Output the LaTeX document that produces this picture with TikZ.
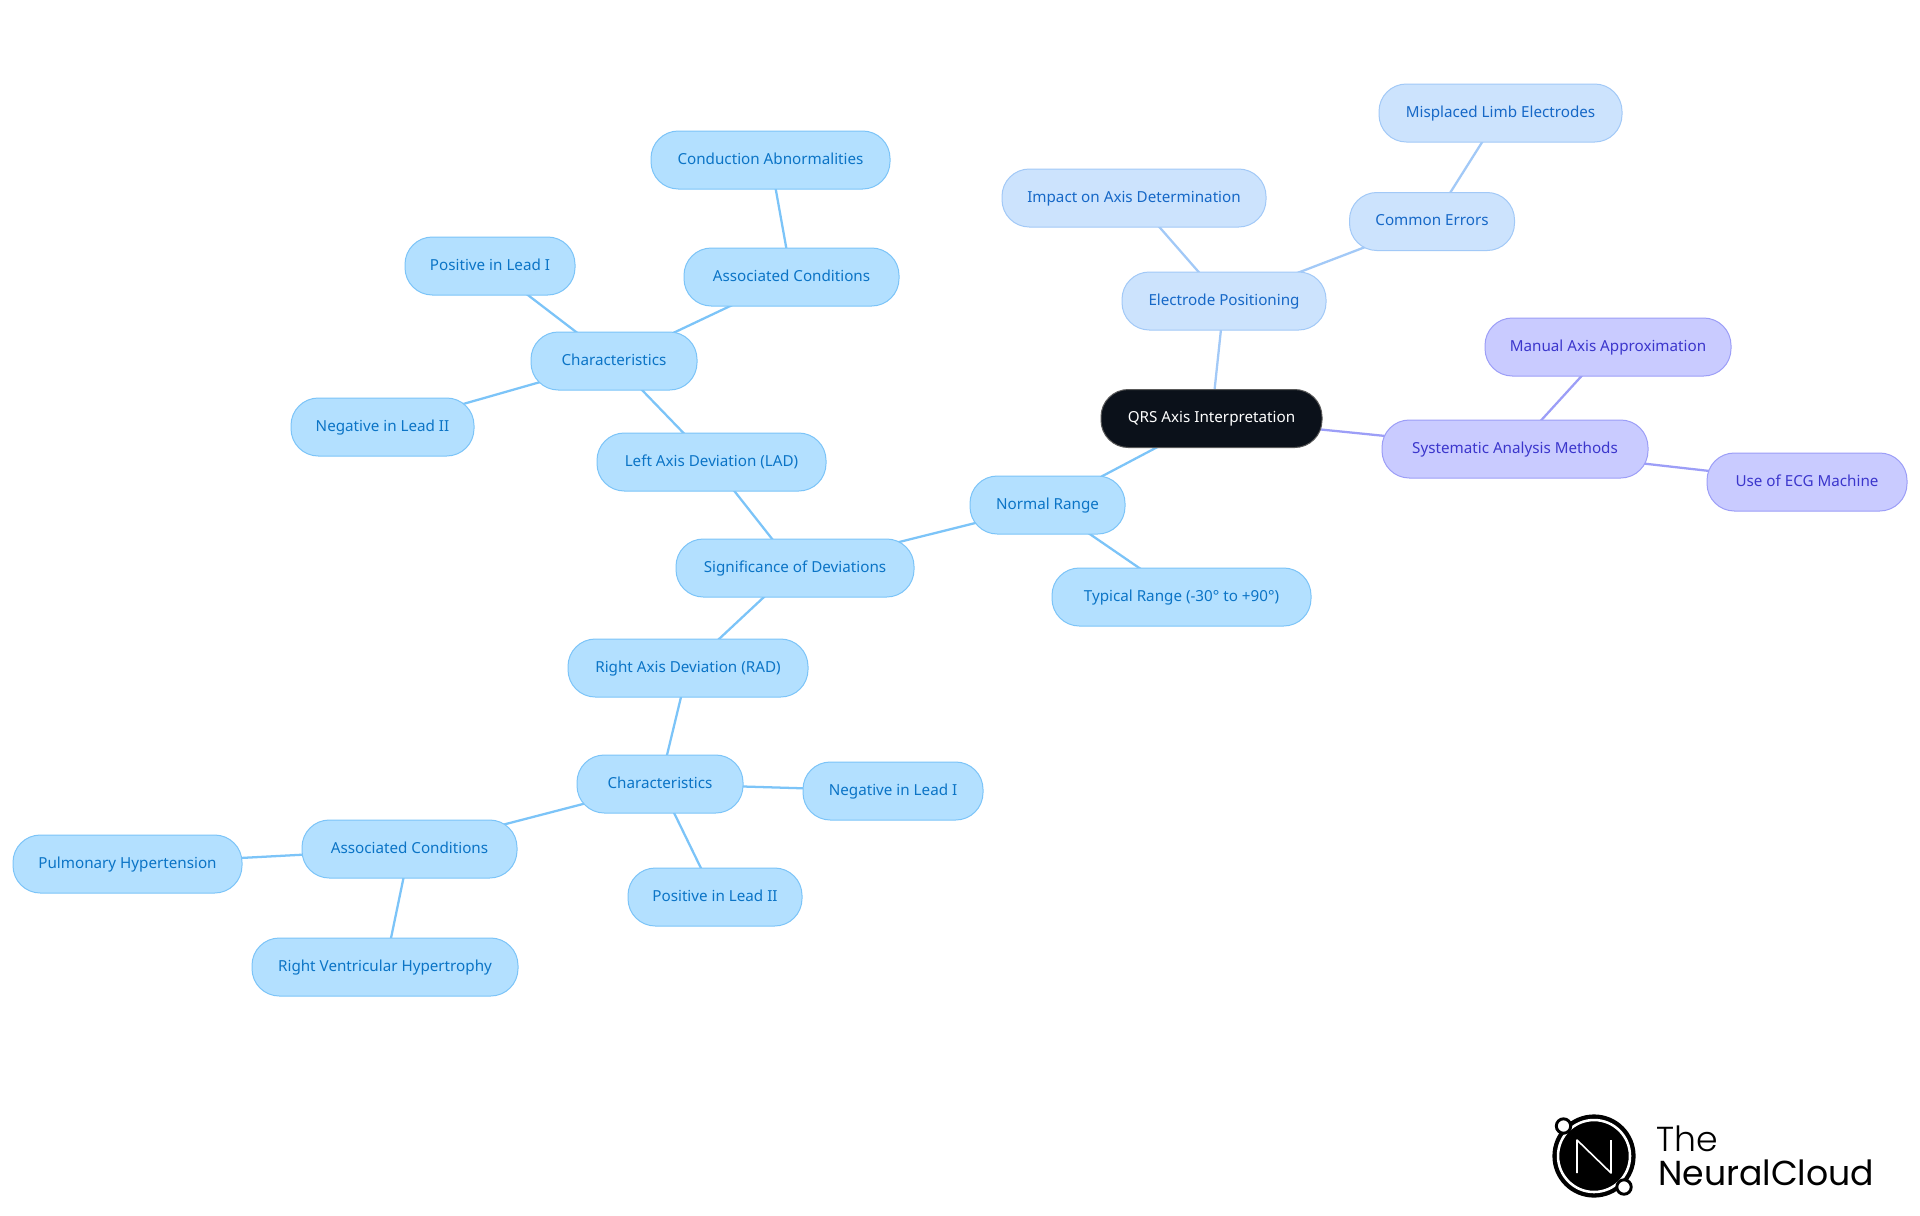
\documentclass[tikz,border=0pt]{standalone}
\usepackage{fontspec}
\usetikzlibrary{backgrounds}
\setmainfont{Noto Sans}
\newfontfamily\logolight{Poppins Light}
\newfontfamily\logoreg{Poppins}
\definecolor{bfill}{HTML}{B3E0FF}
\definecolor{bline}{HTML}{7CC4F8}
\definecolor{btext}{HTML}{0B74C6}
\definecolor{lfill}{HTML}{CCE3FD}
\definecolor{lline}{HTML}{A2C9F7}
\definecolor{ltext}{HTML}{1668C7}
\definecolor{pfill}{HTML}{C9CBFF}
\definecolor{pline}{HTML}{9C9EF7}
\definecolor{ptext}{HTML}{3B36CC}
\definecolor{dfill}{HTML}{0B111A}
\tikzset{
  base/.style={rounded corners=20.5pt,minimum height=43.5pt,inner sep=0pt,line width=0.75pt,text height=8.9pt,text depth=2.6pt,font=\fontsize{11.4pt}{14pt}\selectfont},
  w/.style={minimum width=#1*0.75pt},
  bnode/.style={base,draw=bline,fill=bfill,text=btext},
  lnode/.style={base,draw=lline,fill=lfill,text=ltext},
  pnode/.style={base,draw=pline,fill=pfill,text=ptext},
  dnode/.style={base,draw=gray!70!black,fill=dfill,text=white},
  bedge/.style={bline,line width=1.7pt},
  ledge/.style={lline,line width=1.7pt},
  pedge/.style={pline,line width=1.7pt}
}
\begin{document}
\begin{tikzpicture}[x=0.75pt,y=-0.75pt]
\useasboundingbox (0,0) rectangle (1920,1215);
\node[dnode,w=221] (qrs) at (1211.5,418.5) {QRS Axis Interpretation};
\node[lnode,w=243] (misp) at (1500.5,113) {Misplaced Limb Electrodes};
\node[lnode,w=165] (comm) at (1432,221.5) {Common Errors};
\node[lnode,w=264] (impa) at (1134,198) {Impact on Axis Determination};
\node[lnode,w=204] (elec) at (1224,301) {Electrode Positioning};
\node[pnode,w=246] (manu) at (1608,347) {Manual Axis Approximation};
\node[pnode,w=266] (syst) at (1515,449) {Systematic Analysis Methods};
\node[pnode,w=200] (ecgm) at (1807,482) {Use of ECG Machine};
\node[bnode,w=155] (norm) at (1047.5,505) {Normal Range};
\node[bnode,w=259] (typi) at (1181.5,597) {Typical Range (-30° to +90°)};
\node[bnode,w=238] (sign) at (795,568) {Significance of Deviations};
\node[bnode,w=229] (lad) at (711.5,462) {Left Axis Deviation (LAD)};
\node[bnode,w=166] (charu) at (614,361) {Characteristics};
\node[bnode,w=183] (negii) at (382.5,427) {Negative in Lead II};
\node[bnode,w=170] (posi) at (490,266) {Positive in Lead I};
\node[bnode,w=215] (assu) at (791.5,277) {Associated Conditions};
\node[bnode,w=239] (cond) at (770.5,160) {Conduction Abnormalities};
\node[bnode,w=240] (rad) at (688,668) {Right Axis Deviation (RAD)};
\node[bnode,w=166] (charl) at (660,784) {Characteristics};
\node[bnode,w=180] (negi) at (893,791) {Negative in Lead I};
\node[bnode,w=174] (posii) at (715,897) {Positive in Lead II};
\node[bnode,w=215] (assl) at (409.5,849) {Associated Conditions};
\node[bnode,w=229] (pulm) at (127.5,864) {Pulmonary Hypertension};
\node[bnode,w=266] (rvh) at (385,967) {Right Ventricular Hypertrophy};
\begin{scope}[on background layer]
\fill[white] (0,0) rectangle (1920,1215);
\draw[ledge] (qrs.center) -- (elec.center);
\draw[ledge] (elec.center) -- (impa.center);
\draw[ledge] (elec.center) -- (comm.center);
\draw[ledge] (comm.center) -- (misp.center);
\draw[pedge] (qrs.center) -- (syst.center);
\draw[pedge] (syst.center) -- (manu.center);
\draw[pedge] (syst.center) -- (ecgm.center);
\draw[bedge] (qrs.center) -- (norm.center);
\draw[bedge] (norm.center) -- (typi.center);
\draw[bedge] (norm.center) -- (sign.center);
\draw[bedge] (sign.center) -- (lad.center);
\draw[bedge] (lad.center) -- (charu.center);
\draw[bedge] (charu.center) -- (negii.center);
\draw[bedge] (charu.center) -- (posi.center);
\draw[bedge] (charu.center) -- (assu.center);
\draw[bedge] (assu.center) -- (cond.center);
\draw[bedge] (sign.center) -- (rad.center);
\draw[bedge] (rad.center) -- (charl.center);
\draw[bedge] (charl.center) -- (negi.center);
\draw[bedge] (charl.center) -- (posii.center);
\draw[bedge] (charl.center) -- (assl.center);
\draw[bedge] (assl.center) -- (pulm.center);
\draw[bedge] (assl.center) -- (rvh.center);
\end{scope}
% logo
\fill[black] (1594,1156) circle[radius=31.2pt];
\draw[white,line width=1.9pt] (1594,1156) circle[radius=27pt];
\draw[white,line width=1.2pt,line join=round] (1577,1173) -- (1577,1140) -- (1611,1173) -- (1611,1140);
\draw[black,fill=white,line width=2.2pt] (1563.5,1126) circle[radius=5.4pt];
\draw[black,fill=white,line width=2.2pt] (1624,1187) circle[radius=5.4pt];
\node[anchor=base west,inner sep=0pt,font=\logolight\fontsize{26pt}{30pt}\selectfont] (the) at (1656,1151) {The};
\node[anchor=base west,inner sep=0pt,font=\logoreg\fontsize{26pt}{30pt}\selectfont] (nc) at (1658,1185) {NeuralCloud};
\end{tikzpicture}
\end{document}
